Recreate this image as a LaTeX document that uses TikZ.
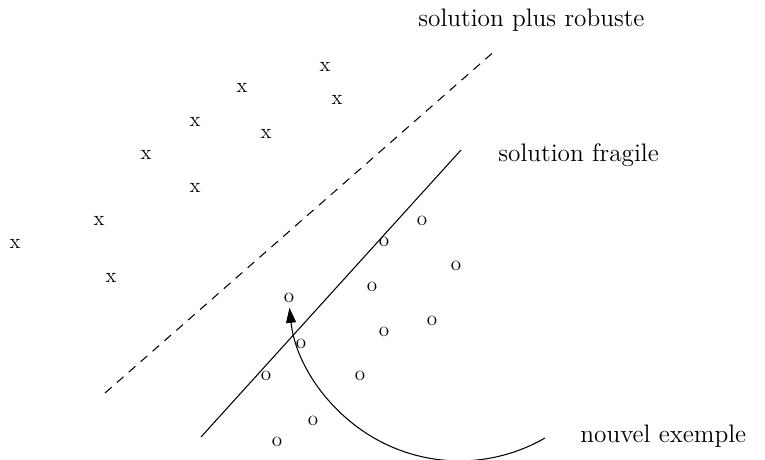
\documentclass[tikz,border=0pt]{standalone}
\usepackage{tikz}
\usetikzlibrary{arrows.meta, positioning}

\begin{document}
\begin{tikzpicture}[
  x=0.02cm, y=-0.02cm,
  pt/.style={inner sep=0pt, font=\large},
  lbl/.style={anchor=west, inner sep=0pt, font=\Large},
  sep/.style={line width=0.6pt},
  arr/.style={-{Triangle[length=0.3cm, width=0.2cm]}, line width=0.6pt}
]
\useasboundingbox (0,0) rectangle (765,460);

% class x
\node[pt] (x1)  at (325,67)  {x};
\node[pt] (x2)  at (242,88)  {x};
\node[pt] (x3)  at (337,100) {x};
\node[pt] (x4)  at (195,122) {x};
\node[pt] (x5)  at (266,134) {x};
\node[pt] (x6)  at (146,155) {x};
\node[pt] (x7)  at (195,188) {x};
\node[pt] (x8)  at (99,221)  {x};
\node[pt] (x9)  at (15,244)  {x};
\node[pt] (x10) at (111,278) {x};

% class o
\node[pt] (o1)  at (422,221) {o};
\node[pt] (o2)  at (384,242) {o};
\node[pt] (o3)  at (456,266) {o};
\node[pt] (o4)  at (372,287) {o};
\node[pt] (new) at (289,298) {o};
\node[pt] (o5)  at (432,321) {o};
\node[pt] (o6)  at (384,332) {o};
\node[pt] (o7)  at (301,344) {o};
\node[pt] (o8)  at (266,376) {o};
\node[pt] (o9)  at (360,376) {o};
\node[pt] (o10) at (313,421) {o};
\node[pt] (o11) at (277,442) {o};

% separateurs
\coordinate (rb1) at (105,393);
\coordinate (rb2) at (497,49);
\coordinate (fr1) at (201,437);
\coordinate (fr2) at (461,150);
\draw[sep, dash pattern=on 5pt off 4pt] (rb1) -- (rb2);
\draw[sep] (fr1) -- (fr2);

\node[lbl] (robuste) at (418,20)  {solution plus robuste};
\node[lbl] (fragile) at (498,155) {solution fragile};
\node[lbl] (nouvel)  at (580,436) {nouvel exemple};

\coordinate (arcstart) at (545,438);
\draw[arr] (arcstart) arc[start angle=300, end angle=186, radius=3.42cm];

\end{tikzpicture}
\end{document}
